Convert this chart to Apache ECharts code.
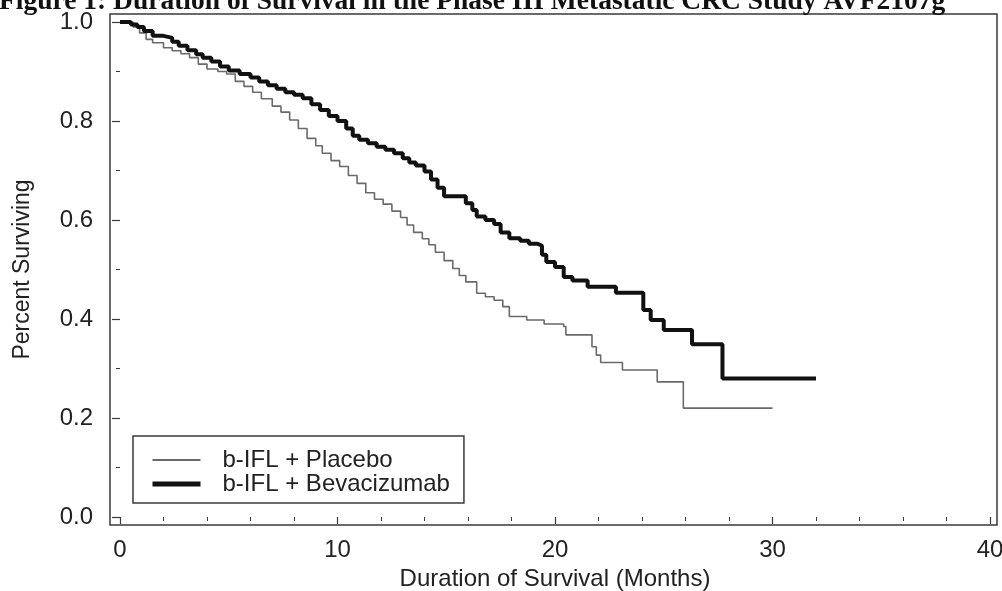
<!DOCTYPE html>
<html>
<head>
<meta charset="utf-8">
<script src="https://cdn.jsdelivr.net/npm/echarts@6/dist/echarts.min.js"></script>
<style>
  html, body { margin: 0; padding: 0; background: #fff; }
  #main { width: 1002px; height: 591px; }
</style>
</head>
<body>
<div id="main"></div>
<script>
// Kaplan-Meier steps (months, fraction surviving)
const placeboMonths = [0, 0.6, 0.9, 1.2, 1.5, 2.0, 2.4, 2.8, 3.2, 3.6, 4.0, 4.5, 4.9, 5.3, 5.7, 6.1, 6.5, 7.0, 7.4, 7.8,
  8.2, 8.6, 9.0, 9.3, 9.7, 10.1, 10.5, 10.9, 11.3, 11.7, 12.1, 12.5, 12.9, 13.2, 13.5, 13.9, 14.2, 14.5, 14.9, 15.3,
  15.6, 15.9, 16.4, 16.8, 17.2, 17.6, 17.9, 18.7, 19.5, 20.4, 20.5, 21.7, 21.9, 22.1, 23.1, 24.7, 25.9, 30.0]
const placeboSurv = [1.0, 0.99, 0.978, 0.965, 0.958, 0.948, 0.942, 0.936, 0.928, 0.915, 0.905, 0.9, 0.895, 0.88, 0.87, 0.858, 0.845, 0.83, 0.818, 0.802,
  0.785, 0.765, 0.75, 0.735, 0.72, 0.708, 0.69, 0.674, 0.655, 0.642, 0.632, 0.618, 0.605, 0.59, 0.575, 0.562, 0.55, 0.535, 0.518, 0.502,
  0.488, 0.475, 0.452, 0.445, 0.438, 0.425, 0.405, 0.398, 0.39, 0.385, 0.368, 0.344, 0.327, 0.312, 0.297, 0.273, 0.22, 0.22]

const bevMonths = [0, 0.5, 0.8, 1.1, 1.5, 2.0, 2.4, 2.7, 3.1, 3.5, 3.8, 4.2, 4.6, 5.0, 5.5, 6.0, 6.4, 6.8, 7.2, 7.6,
  8.0, 8.4, 8.8, 9.2, 9.6, 10.0, 10.4, 10.7, 11.0, 11.4, 11.8, 12.2, 12.6, 13.0, 13.3, 13.6, 14.0, 14.3, 14.6, 14.9,
  15.9, 16.2, 16.4, 16.8, 17.2, 17.5, 17.9, 18.4, 18.8, 19.2, 19.4, 19.6, 20.0, 20.4, 20.8, 21.5, 22.8, 24.06, 24.4,
  25.0, 26.3, 27.7, 32.0]
const bevSurv = [1.0, 0.995, 0.99, 0.982, 0.972, 0.968, 0.96, 0.952, 0.943, 0.935, 0.928, 0.92, 0.91, 0.902, 0.895, 0.888, 0.88, 0.872, 0.865, 0.858,
  0.853, 0.846, 0.834, 0.822, 0.81, 0.8, 0.785, 0.77, 0.762, 0.755, 0.748, 0.742, 0.735, 0.725, 0.716, 0.71, 0.698, 0.682, 0.665, 0.648,
  0.634, 0.62, 0.607, 0.6, 0.592, 0.575, 0.563, 0.558, 0.552, 0.548, 0.53, 0.515, 0.505, 0.485, 0.478, 0.465, 0.453, 0.418, 0.398,
  0.378, 0.349, 0.28, 0.28]

const seriesNames = ['b-IFL + Placebo', 'b-IFL + Bevacizumab']
const titleText = 'Figure 1: Duration of Survival in the Phase III Metastatic CRC Study AVF2107g'

const zip = (xs, ys) => xs.map((x, i) => [x, ys[i]])

const font = 'Liberation Sans, Arial, sans-serif'
const chart = echarts.init(document.getElementById('main'))

chart.setOption({
  animation: false,
  backgroundColor: '#fff',
  title: {
    text: titleText,
    left: -1,
    top: -12,
    padding: 0,
    textStyle: { fontFamily: 'Liberation Serif, Times New Roman, serif', fontWeight: 'bold', fontSize: 27.5, color: '#111' }
  },
  grid: [
    // outer frame
    { left: 110, top: 14, right: 5, bottom: 66, outerBoundsMode: 'none', show: true, borderColor: '#3a3a3a', borderWidth: 1.5, backgroundColor: 'transparent' },
    // data area
    { left: 120, top: 22, right: 12, bottom: 74, outerBoundsMode: 'none' }
  ],
  legend: {
    orient: 'vertical',
    left: 133,
    top: 436,
    padding: [12, 14, 7, 17],
    itemGap: 0,
    itemWidth: 48,
    itemHeight: 24,
    borderColor: '#3a3a3a',
    borderWidth: 1.5,
    backgroundColor: '#fff',
    itemStyle: { opacity: 0 },
    textStyle: { fontFamily: font, fontSize: 24, color: '#222', padding: [0, 0, 0, 17] },
    data: [
      { name: seriesNames[0], lineStyle: { width: 1.8 } },
      { name: seriesNames[1], lineStyle: { width: 5 } }
    ]
  },
  xAxis: [
    { gridIndex: 0, type: 'value', show: false, min: 0, max: 1 },
    {
      gridIndex: 1, type: 'value', min: 0, max: 40, interval: 10, offset: 8,
      name: 'Duration of Survival (Months)', nameLocation: 'middle', nameGap: 42,
      nameTextStyle: { fontFamily: font, fontSize: 24, color: '#222' },
      axisLine: { show: false },
      axisTick: { show: true, inside: false, length: 7, lineStyle: { color: '#3a3a3a', width: 1.2 } },
      minorTick: { show: true, splitNumber: 5, length: 4, lineStyle: { color: '#3a3a3a', width: 1 } },
      axisLabel: { fontFamily: font, fontSize: 24, color: '#222', margin: 13 },
      splitLine: { show: false }
    }
  ],
  yAxis: [
    { gridIndex: 0, type: 'value', show: false, min: 0, max: 1 },
    {
      gridIndex: 1, type: 'value', min: 0, max: 1, interval: 0.2, offset: 10,
      name: 'Percent Surviving', nameLocation: 'middle', nameGap: 76,
      nameTextStyle: { fontFamily: font, fontSize: 23, color: '#222' },
      axisLine: { show: false },
      axisTick: { show: true, inside: false, length: 8, lineStyle: { color: '#3a3a3a', width: 1.2 } },
      minorTick: { show: true, splitNumber: 2, length: 4, lineStyle: { color: '#3a3a3a', width: 1 } },
      axisLabel: { fontFamily: font, fontSize: 24, color: '#222', margin: 17, formatter: v => v.toFixed(1) },
      splitLine: { show: false }
    }
  ],
  series: [
    {
      name: seriesNames[0], type: 'line', step: 'end', xAxisIndex: 1, yAxisIndex: 1,
      symbol: 'none', data: zip(placeboMonths, placeboSurv),
      lineStyle: { color: '#6a6a6a', width: 1.6 }, itemStyle: { color: '#6a6a6a' }
    },
    {
      name: seriesNames[1], type: 'line', step: 'end', xAxisIndex: 1, yAxisIndex: 1,
      symbol: 'none', data: zip(bevMonths, bevSurv),
      lineStyle: { color: '#111', width: 4 }, itemStyle: { color: '#111' }
    }
  ]
})
</script>
</body>
</html>
